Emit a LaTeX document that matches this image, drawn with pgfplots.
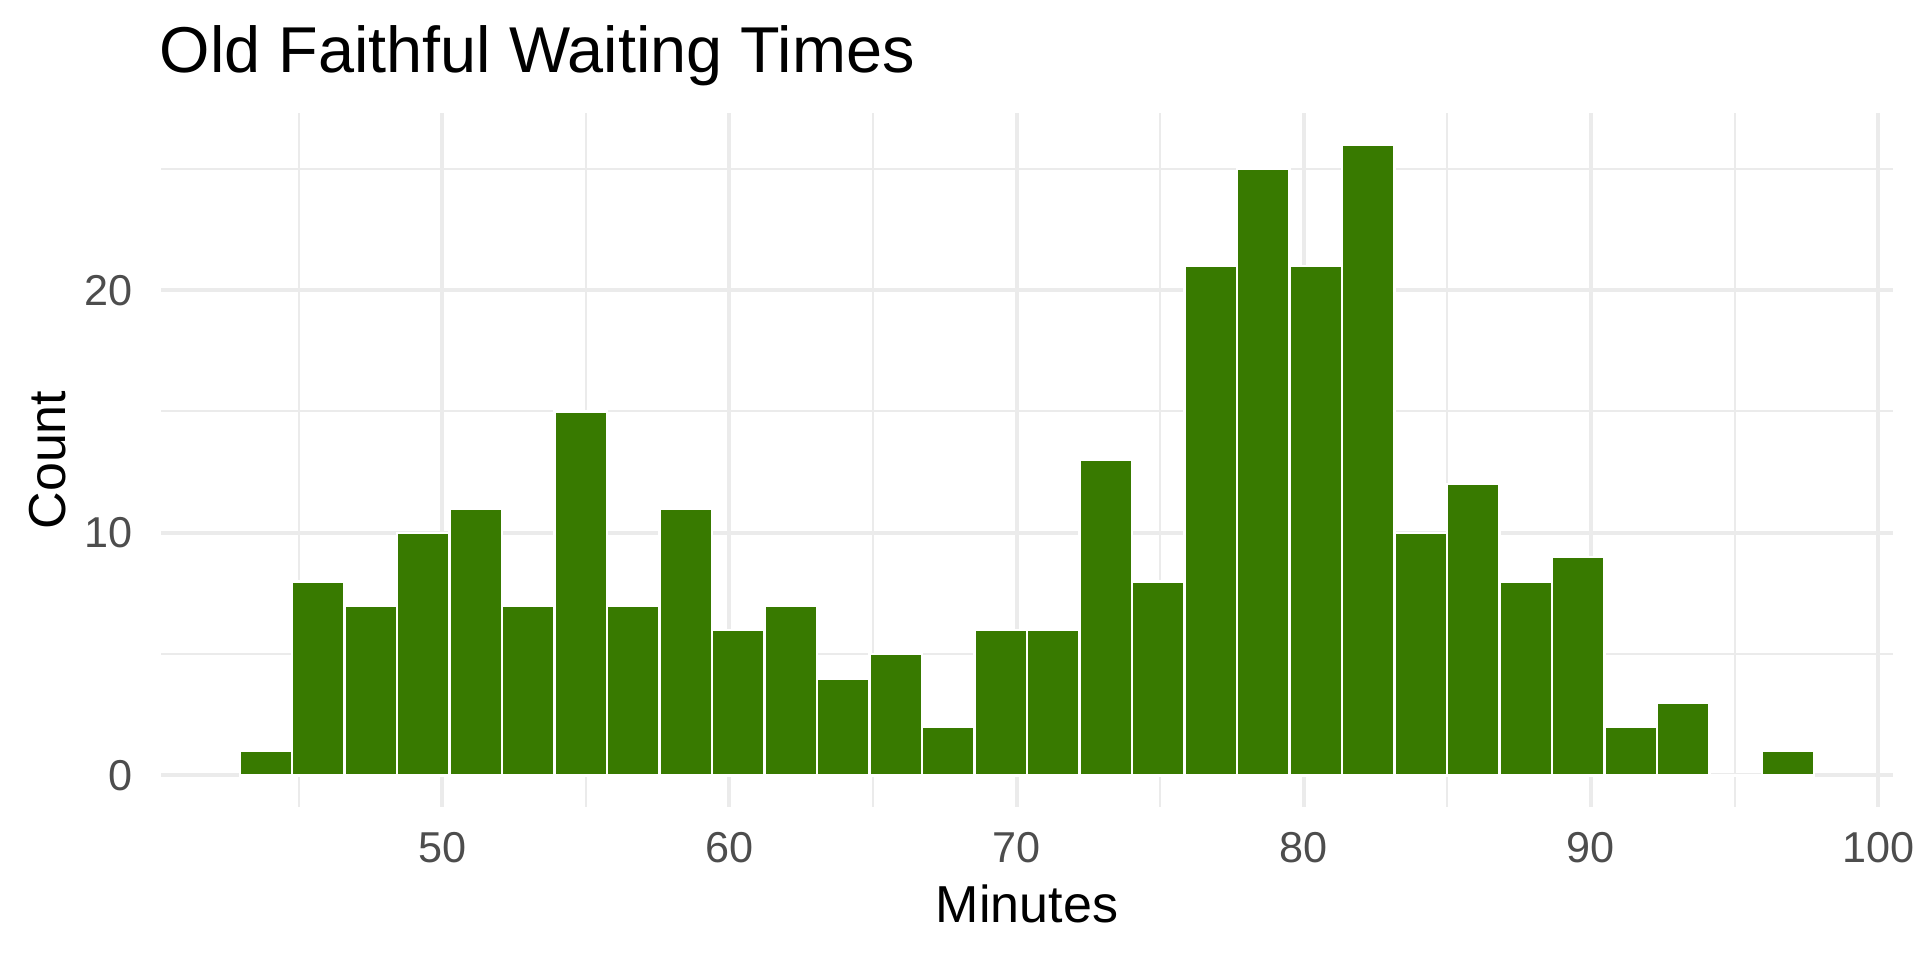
\documentclass[border=0pt]{standalone}
\usepackage{fontspec}
\setmainfont{Liberation Sans}
\usepackage{pgfplots}
\pgfplotsset{compat=1.18}
\definecolor{barfill}{RGB}{56,122,0}
\definecolor{gridc}{RGB}{235,235,235}
\definecolor{ticktext}{RGB}{77,77,77}
\begin{document}
\begin{tikzpicture}
\useasboundingbox (-40.25bp,-38.25bp) rectangle ++(480bp,240bp);
\begin{axis}[
  at={(0,0)}, anchor=south west,
  scale only axis, width=433bp, height=173.5bp,
  xmin=40.207, xmax=100.517, ymin=-1.3, ymax=27.3,
  xtick={50,60,70,80,90,100}, minor xtick={45,55,65,75,85,95},
  ytick={0,10,20}, minor ytick={5,15,25},
  grid=both,
  major grid style={line width=1bp, draw=gridc},
  minor grid style={line width=0.5bp, draw=gridc},
  axis line style={draw=none},
  major tick length=0pt, minor tick length=0pt,
  tick style={draw=none},
  /pgf/number format/assume math mode=true,
  xticklabel style={anchor=north, inner sep=0pt, yshift=-6.2bp, text=ticktext, font=\fontsize{10.8bp}{13bp}\selectfont},
  yticklabel style={anchor=east, inner sep=0pt, xshift=-7bp, text=ticktext, font=\fontsize{10.8bp}{13bp}\selectfont},
  clip=false,
]
\addplot[ybar interval, fill=barfill, draw=white, line width=0.6bp] coordinates {
(42.948276,1) (44.775862,8) (46.603448,7) (48.431034,10) (50.258621,11)
(52.086207,7) (53.913793,15) (55.741379,7) (57.568966,11) (59.396552,6)
(61.224138,7) (63.051724,4) (64.879310,5) (66.706897,2) (68.534483,6)
(70.362069,6) (72.189655,13) (74.017241,8) (75.844828,21) (77.672414,25)
(79.500000,21) (81.327586,26) (83.155172,10) (84.982759,12) (86.810345,8)
(88.637931,9) (90.465517,2) (92.293103,3) (94.120690,0) (95.948276,1)
(97.775862,0)
};
\end{axis}
\node[anchor=base west, inner sep=0pt, font=\fontsize{16.2bp}{19bp}\selectfont] at (-0.5bp,183.6bp) {Old Faithful Waiting Times};
\node[anchor=base, inner sep=0pt, font=\fontsize{13bp}{15bp}\selectfont] at (216.5bp,-28.9bp) {Minutes};
\node[anchor=base, rotate=90, inner sep=0pt, font=\fontsize{13bp}{15bp}\selectfont] at (-24bp,86.75bp) {Count};
\end{tikzpicture}
\end{document}
